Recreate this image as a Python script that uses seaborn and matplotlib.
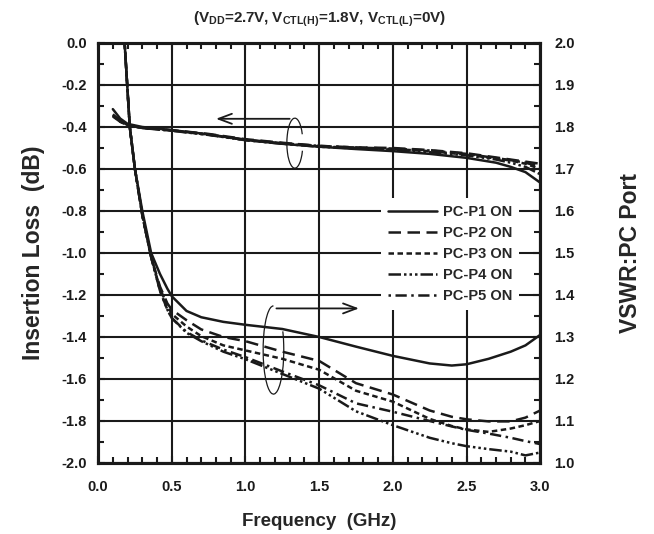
import numpy as np
import pandas as pd
import matplotlib
matplotlib.use("Agg")
import matplotlib.pyplot as plt
from matplotlib.patches import Arc
import seaborn as sns

# ---- data ----
freq_il = [0.1, 0.15, 0.2, 0.3, 0.5, 0.75, 1.0, 1.25, 1.5, 1.75, 2.0, 2.25, 2.5, 2.7, 2.8, 2.9, 3.0]
il_p1 = [-0.315, -0.36, -0.385, -0.40, -0.415, -0.435, -0.462, -0.48, -0.494, -0.505, -0.515, -0.528, -0.547, -0.57, -0.59, -0.615, -0.665]
il_p2 = [-0.34, -0.37, -0.39, -0.405, -0.415, -0.433, -0.458, -0.475, -0.49, -0.497, -0.50, -0.51, -0.525, -0.545, -0.555, -0.565, -0.575]
il_p3 = [-0.345, -0.375, -0.392, -0.405, -0.417, -0.437, -0.462, -0.478, -0.492, -0.50, -0.505, -0.515, -0.532, -0.55, -0.56, -0.575, -0.60]
il_p4 = [-0.35, -0.375, -0.39, -0.405, -0.418, -0.438, -0.463, -0.48, -0.494, -0.502, -0.508, -0.52, -0.535, -0.555, -0.57, -0.59, -0.625]
il_p5 = [-0.345, -0.372, -0.39, -0.404, -0.416, -0.436, -0.46, -0.477, -0.49, -0.498, -0.503, -0.512, -0.528, -0.548, -0.558, -0.57, -0.59]

freq_vswr = [0.1, 0.15, 0.18, 0.215, 0.25, 0.3, 0.36, 0.42, 0.47, 0.5, 0.6, 0.7, 0.85, 1.0,
             1.25, 1.5, 1.75, 2.0, 2.25, 2.4, 2.5, 2.65, 2.8, 2.9, 3.0]
vswr_p1 = [2.6, 2.2, 2.0, 1.8, 1.7, 1.6, 1.5, 1.45, 1.415, 1.397, 1.362, 1.347, 1.336, 1.329,
           1.319, 1.30, 1.277, 1.255, 1.237, 1.232, 1.235, 1.248, 1.265, 1.28, 1.305]
vswr_p2 = [2.6, 2.2, 2.0, 1.8, 1.7, 1.59, 1.49, 1.42, 1.38, 1.365, 1.34, 1.318, 1.30, 1.29,
           1.265, 1.243, 1.19, 1.163, 1.125, 1.11, 1.104, 1.099, 1.099, 1.108, 1.125]
vswr_p3 = [2.6, 2.2, 2.0, 1.8, 1.7, 1.59, 1.49, 1.415, 1.375, 1.355, 1.325, 1.302, 1.28, 1.268,
           1.248, 1.222, 1.172, 1.146, 1.105, 1.088, 1.08, 1.074, 1.082, 1.09, 1.10]
vswr_p4 = [2.6, 2.2, 2.0, 1.8, 1.7, 1.59, 1.49, 1.41, 1.365, 1.345, 1.31, 1.29, 1.265, 1.247,
           1.212, 1.177, 1.123, 1.09, 1.06, 1.047, 1.04, 1.033, 1.027, 1.018, 1.025]
vswr_p5 = [2.6, 2.2, 2.0, 1.8, 1.7, 1.59, 1.49, 1.41, 1.365, 1.345, 1.312, 1.292, 1.27, 1.252,
           1.218, 1.185, 1.142, 1.122, 1.10, 1.087, 1.079, 1.07, 1.06, 1.052, 1.045]

labels = ["PC-P1 ON", "PC-P2 ON", "PC-P3 ON", "PC-P4 ON", "PC-P5 ON"]

# line styles for each port
styles = ["-", (0, (5, 2.6)), (0, (2.2, 1.4)), (0, (5, 1.2, 1, 1.2, 1, 1.2, 1, 1.2)), (0, (1, 1.8, 4.5, 1.8))]

sns.set_theme(style="ticks")
plt.rcParams["font.family"] = ["Liberation Sans", "DejaVu Sans"]
plt.rcParams["font.weight"] = "bold"
plt.rcParams["mathtext.fontset"] = "custom"
plt.rcParams["mathtext.rm"] = "Liberation Sans:bold"
plt.rcParams["mathtext.bf"] = "Liberation Sans:bold"

fig, ax = plt.subplots(figsize=(6.54, 5.34), dpi=100)
fig.subplots_adjust(left=0.150, right=0.826, top=0.9195, bottom=0.133)
ax2 = ax.twinx()

il_df = pd.DataFrame({"f": freq_il, "P1": il_p1, "P2": il_p2, "P3": il_p3, "P4": il_p4, "P5": il_p5})
vs_df = pd.DataFrame({"f": freq_vswr, "P1": vswr_p1, "P2": vswr_p2, "P3": vswr_p3, "P4": vswr_p4, "P5": vswr_p5})

handles = []
for i, col in enumerate(["P1", "P2", "P3", "P4", "P5"]):
    sns.lineplot(data=il_df, x="f", y=col, ax=ax, color="k", lw=1.8, linestyle=styles[i])
    sns.lineplot(data=vs_df, x="f", y=col, ax=ax2, color="k", lw=1.8, linestyle=styles[i],
                 label=labels[i], legend=False)
    handles.append(ax2.lines[-1])

ax.set_xlim(0, 3.0)
ax.set_ylim(-2.0, 0.0)
ax2.set_ylim(1.0, 2.0)
ax.set_xticks(np.arange(0, 3.01, 0.5))
ax.set_yticks(np.arange(-2.0, 0.01, 0.2))
ax2.set_yticks(np.arange(1.0, 2.01, 0.1))
ax.set_xticks(np.arange(0, 3.01, 0.1), minor=True)
ax.set_yticks(np.arange(-2.0, 0.01, 0.1), minor=True)
ax2.set_yticks(np.arange(1.0, 2.01, 0.05), minor=True)

fmt = matplotlib.ticker.FuncFormatter(lambda v, p: "%.1f" % (0.0 if abs(v) < 1e-9 else v))
ax.xaxis.set_major_formatter(fmt)
ax.yaxis.set_major_formatter(fmt)
ax2.yaxis.set_major_formatter(fmt)

ax.grid(True, which="major", color="k", lw=1.5)
ax.tick_params(which="both", direction="in", top=True, right=False, width=1.5, labelsize=10.5, colors="k")
ax.tick_params(axis="x", which="major", length=5, pad=12)
ax.tick_params(axis="y", which="major", length=5, pad=8)
ax.tick_params(which="minor", length=4)
ax2.tick_params(which="both", direction="in", width=1.5, labelsize=10.5, colors="k")
ax2.tick_params(which="major", length=5, pad=10)
ax2.tick_params(which="minor", length=4)
for a in (ax, ax2):
    for s in a.spines.values():
        s.set_linewidth(2.2)
        s.set_color("k")

ax.set_xlabel("Frequency  (GHz)", fontsize=13.5, fontweight="bold", labelpad=14)
ax.set_ylabel("Insertion Loss  (dB)", fontsize=16.5, fontweight="bold", labelpad=12)
ax2.set_ylabel("VSWR:PC Port", fontsize=16.5, fontweight="bold", labelpad=32)
ax.set_title(r"(V$_\mathbf{DD}$=2.7V, V$_\mathbf{CTL(H)}$=1.8V, V$_\mathbf{CTL(L)}$=0V)",
             fontsize=11, fontweight="bold", pad=15)

# arrows with ellipses marking each curve group
ax.annotate("", xy=(0.80, -0.361), xytext=(1.30, -0.361),
            arrowprops=dict(arrowstyle="->,head_length=0.8,head_width=0.3", color="k", lw=1.3,
                            shrinkA=0, shrinkB=0))
ax.add_patch(Arc((1.335, -0.477), 0.108, 0.238, theta1=40, theta2=325, color="k", lw=0.9))
ax2.annotate("", xy=(1.77, 1.368), xytext=(1.21, 1.368),
             arrowprops=dict(arrowstyle="->,head_length=0.8,head_width=0.3", color="k", lw=1.3,
                             shrinkA=0, shrinkB=0))
ax2.add_patch(Arc((1.19, 1.269), 0.14, 0.21, theta1=90, theta2=395, color="k", lw=0.9))

leg = ax2.legend(handles=handles, labels=labels, loc="upper right", bbox_to_anchor=(0.952, 0.63),
                 frameon=True, facecolor="white", edgecolor="none", framealpha=1, fancybox=False,
                 fontsize=10.5, handlelength=3.4, handletextpad=0.4, labelspacing=0.48,
                 borderpad=0.45, borderaxespad=0)
for t in leg.get_texts():
    t.set_fontweight("bold")

fig.savefig("out.png", dpi=100)
